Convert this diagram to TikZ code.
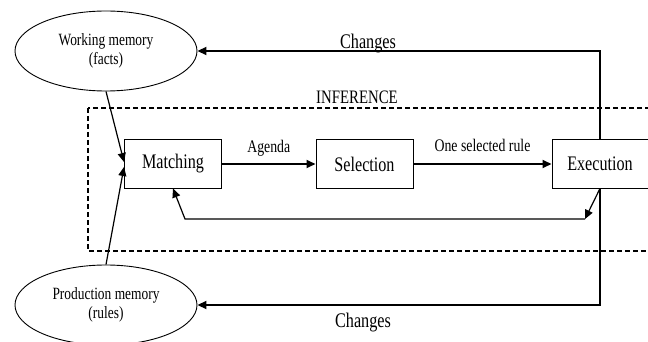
\documentclass[tikz,border=0pt]{standalone}
\usepackage{fontspec}
\setmainfont{Liberation Serif}[FakeStretch=0.78]
\usetikzlibrary{shapes.geometric,arrows.meta}
\begin{document}
\begin{tikzpicture}[x=1pt,y=-1pt,
  box/.style={draw,line width=1pt,minimum width=97pt,minimum height=48pt,inner sep=0pt,font=\fontsize{20.7}{24}\selectfont},
  mem/.style={draw,ellipse,line width=0.9pt,minimum width=182pt,minimum height=80pt,inner sep=0pt,align=center,font=\fontsize{17.2}{19.5}\selectfont},
  tip/.style={-{Triangle[length=9pt,width=8pt]}},
  mainline/.style={line width=1.7pt},
  thinline/.style={line width=1.2pt},
  lbl/.style={inner sep=0pt,font=\fontsize{17.7}{20}\selectfont},
  biglbl/.style={inner sep=0pt,font=\fontsize{20.8}{24}\selectfont},
  frame/.style={dashed,line width=1.6pt,dash pattern=on 5pt off 3pt}
]
\useasboundingbox (0,0) rectangle (648,342);
\clip (0,0) rectangle (648,342);

% dashed inference frame
\draw[frame] (88,108) rectangle (670,251);
\node[inner sep=0pt,font=\fontsize{19}{22}\selectfont] (inf) at (357,97) {INFERENCE};

% memories
\node[mem] (wm) at (106,51) {Working memory\\(facts)};
\node[mem] (pm) at (106,305) {Production memory\\(rules)};

% process boxes
\node[box] (match) at (173,164) {Matching};
\node[box] (sel) at (364.5,164) {Selection};
\node[box,minimum width=96pt] (exec) at (600,164) {Execution};

% forward arrows
\draw[mainline,tip] (match) -- (sel) node[lbl,midway,above=7pt] (ag) {Agenda};
\draw[mainline,tip] (sel) -- (exec) node[lbl,midway,above=11pt] (osr) {One selected rule};

% memories to matching
\draw[thinline,tip] (wm.south) -- ([yshift=2pt]match.west);
\draw[thinline,tip] (pm.north) -- ([yshift=-3pt]match.west);

% changes back to memories
\draw[mainline,tip] (exec.north) |- (wm.east);
\draw[mainline,tip] (exec.south) |- (pm.east);
\node[biglbl] (ch1) at (368,44) {Changes};
\node[biglbl] (ch2) at (363,323) {Changes};

% feedback loop
\coordinate (fb1) at (585,219);
\coordinate (fb2) at (185,219);
\draw[thinline,tip] (exec.south) -- (fb1);
\draw[thinline,tip] (fb1) -- (fb2) -- (match.south);
\end{tikzpicture}
\end{document}
